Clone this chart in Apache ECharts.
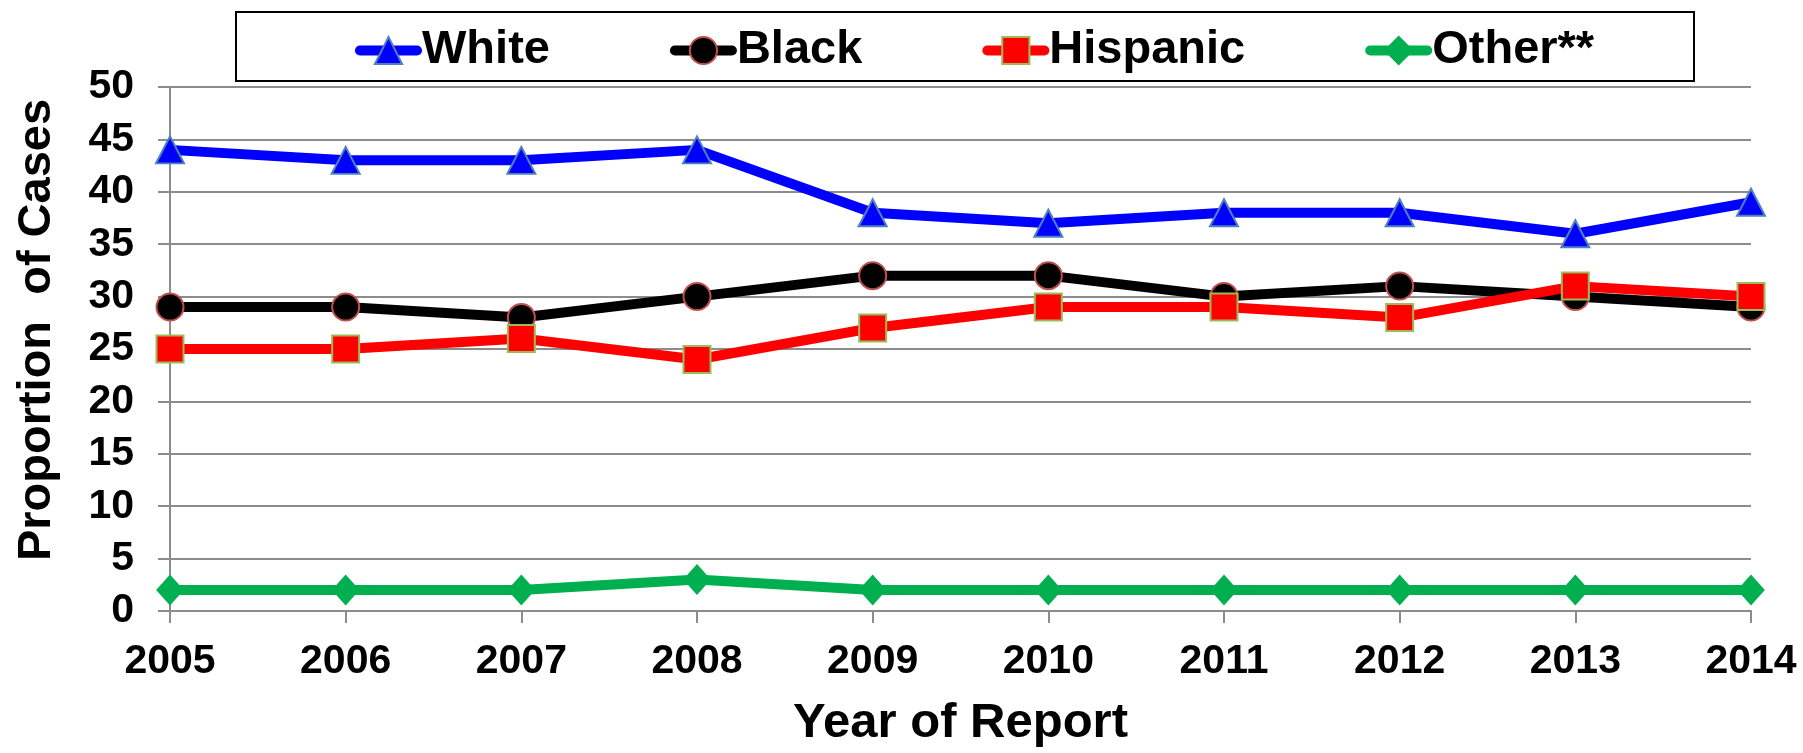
<!DOCTYPE html>
<html>
<head>
<meta charset="utf-8">
<script src="https://cdn.jsdelivr.net/npm/echarts@6/dist/echarts.min.js"></script>
<style>
html,body{margin:0;padding:0;background:#fff;overflow:hidden;}
#chart{width:1803px;height:753px;}
</style>
</head>
<body>
<div id="chart"></div>
<script>
const years = ['2005','2006','2007','2008','2009','2010','2011','2012','2013','2014'];
const white = [44,43,43,44,38,37,38,38,36,39];
const black = [29,29,28,30,32,32,30,31,30,29];
const hispanic = [25,25,26,24,27,29,29,28,31,30];
const other = [2,2,2,3,2,2,2,2,2,2];
const seriesNames = ['White','Black','Hispanic','Other**'];
const yTitle = 'Proportion  of Cases';
const xTitle = 'Year of Report';

const FONT = '"Liberation Sans", Arial, sans-serif';
const chart = echarts.init(document.getElementById('chart'), null, {renderer:'canvas', width:1803, height:753});

function mk(name, data, color, symbol, size, border) {
  return {
    name: name, type: 'line', data: data,
    symbol: symbol, symbolSize: size,
    lineStyle: {color: color, width: 10},
    itemStyle: {color: color, borderColor: border, borderWidth: 2},
    emphasis: {disabled: true},
    animation: false
  };
}

chart.setOption({
  backgroundColor: '#fff',
  animation: false,
  grid: {left: 170, right: 52, top: 87, bottom: 131, containLabel: false},
  legend: {
    data: seriesNames,
    left: 350, top: 22,
    itemWidth: 57, itemHeight: 34, itemGap: 120,
    textStyle: {fontFamily: FONT, fontWeight: 'bold', fontSize: 47, color: '#000'},
    lineStyle: {width: 10, cap: 'round'},
    selectedMode: false
  },
  graphic: [
    {type: 'rect', shape: {x: 236, y: 12, width: 1458, height: 69},
     style: {fill: 'none', stroke: '#000', lineWidth: 2}, z: -1},
    {type: 'text', x: 37, y: 330, rotation: Math.PI/2,
     style: {text: yTitle, fontFamily: FONT, fontWeight: 'bold', fontSize: 47, fill: '#000',
             align: 'center', verticalAlign: 'middle'}}
  ],
  xAxis: {
    type: 'category', data: years, boundaryGap: false,
    axisLine: {show: true, lineStyle: {color: '#8c8c8c', width: 2}},
    axisTick: {show: true, alignWithLabel: true, length: 12, lineStyle: {color: '#8c8c8c', width: 2}},
    axisLabel: {fontFamily: FONT, fontWeight: 'bold', fontSize: 41, color: '#000', margin: 30},
    splitLine: {show: false},
    name: xTitle, nameLocation: 'middle', nameGap: 88,
    nameTextStyle: {fontFamily: FONT, fontWeight: 'bold', fontSize: 49, color: '#000'}
  },
  yAxis: {
    type: 'value', min: 0, max: 50, interval: 5,
    axisLine: {show: true, lineStyle: {color: '#8c8c8c', width: 2}},
    axisTick: {show: true, length: 12, lineStyle: {color: '#8c8c8c', width: 2}},
    axisLabel: {fontFamily: FONT, fontWeight: 'bold', fontSize: 41, color: '#000', margin: 36},
    splitLine: {show: true, lineStyle: {color: '#8c8c8c', width: 2}}
  },
  series: [
    mk('White', white, '#0000FF', 'triangle', [28,27], '#4F81BD'),
    mk('Black', black, '#000000', 'circle', [27,27], '#C0504D'),
    mk('Hispanic', hispanic, '#FF0000', 'rect', [27,27], '#9BBB59'),
    mk('Other**', other, '#00B050', 'diamond', [25,28], '#00B050')
  ]
});
</script>
</body>
</html>
